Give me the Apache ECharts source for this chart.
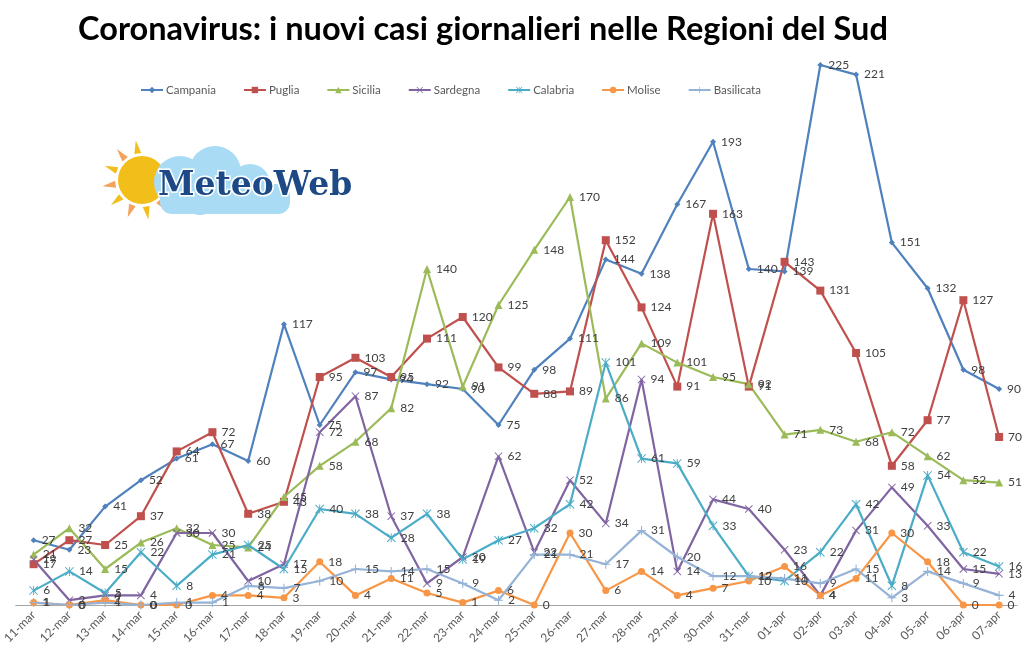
<!DOCTYPE html>
<html lang="it">
<head>
<meta charset="UTF-8">
<title>Coronavirus: i nuovi casi giornalieri nelle Regioni del Sud</title>
<script src="https://cdn.jsdelivr.net/npm/echarts@6/dist/echarts.min.js"></script>
<style>
  html, body { margin: 0; padding: 0; background: #fff; }
  #grafico { width: 1024px; height: 660px; }
</style>
</head>
<body>
<div id="grafico"></div>
<script>
// giorni e nuovi casi per regione
var giorni = ['11-mar','12-mar','13-mar','14-mar','15-mar','16-mar','17-mar','18-mar','19-mar','20-mar',
  '21-mar','22-mar','23-mar','24-mar','25-mar','26-mar','27-mar','28-mar','29-mar','30-mar',
  '31-mar','01-apr','02-apr','03-apr','04-apr','05-apr','06-apr','07-apr'];

var campania   = [27,23,41,52,61,67,60,117,75,97,94,92,90,75,98,111,144,138,167,193,140,139,225,221,151,132,98,90];
var puglia     = [17,27,25,37,64,72,38,43,95,103,95,111,120,99,88,89,152,124,91,163,91,143,131,105,58,77,127,70];
var sicilia    = [21,32,15,26,32,25,24,45,58,68,82,140,91,125,148,170,86,109,101,95,92,71,73,68,72,62,52,51];
var sardegna   = [19,2,4,4,30,30,10,17,72,87,37,9,20,62,22,52,34,94,14,44,40,23,4,31,49,33,15,13];
var calabria   = [6,14,5,22,8,21,25,15,40,38,28,38,19,27,32,42,101,61,59,33,12,10,22,42,8,54,22,16];
var molise     = [1,0,2,0,0,4,4,3,18,4,11,5,1,6,0,30,6,14,4,7,10,16,4,11,30,18,0,0];
var basilicata = [1,0,1,0,1,1,8,7,10,15,14,15,9,2,21,21,17,31,20,12,12,11,9,15,3,14,9,4];

var regioni = ['Campania','Puglia','Sicilia','Sardegna','Calabria','Molise','Basilicata'];
var valori  = [campania, puglia, sicilia, sardegna, calabria, molise, basilicata];
var colori  = ['#4F81BD','#C0504D','#9BBB59','#8064A2','#4BACC6','#F79646','#95B3D7'];

var piu = 'path://M4.4,0 H5.6 V4.4 H10 V5.6 H5.6 V10 H4.4 V5.6 H0 V4.4 H4.4 Z';
var ics = 'path://M0,0.8 L0.8,0 L5,4.2 L9.2,0 L10,0.8 L5.8,5 L10,9.2 L9.2,10 L5,5.8 L0.8,10 L0,9.2 L4.2,5 Z';
var asterisco = 'path://M0,0.8 L0.8,0 L5,4.2 L9.2,0 L10,0.8 L5.8,5 L10,9.2 L9.2,10 L5,5.8 L0.8,10 L0,9.2 L4.2,5 Z M4.5,0 H5.5 V10 H4.5 Z';
var simboli = ['diamond','rect','triangle',ics,asterisco,'circle',piu];
var misure  = [6,8,8,8,9,7,9];

var serie = regioni.map(function (nome, i) {
  return {
    name: nome,
    type: 'line',
    data: valori[i],
    symbol: simboli[i],
    symbolSize: misure[i],
    showAllSymbol: true,
    lineStyle: { width: 2.2, color: colori[i] },
    itemStyle: { color: colori[i] },
    label: {
      show: true,
      position: 'right',
      distance: 5,
      color: '#404040',
      fontSize: 12,
      fontFamily: 'Lato'
    },
    emphasis: { disabled: true },
    animation: false
  };
});

var grafico = echarts.init(document.getElementById('grafico'));

// logo MeteoWeb fatto a mano: sole + nuvola + scritta
var raggi = [];
for (var k = 0; k < 8; k++) {
  var a = Math.PI * 0.55 + k * Math.PI / 6;
  var cx = 142, cy = 180;
  var r1 = 27, r2 = 40;
  var w = 0.13;
  raggi.push({
    type: 'polygon',
    shape: { points: [
      [cx + r1 * Math.cos(a - w), cy - r1 * Math.sin(a - w)],
      [cx + r2 * Math.cos(a), cy - r2 * Math.sin(a)],
      [cx + r1 * Math.cos(a + w), cy - r1 * Math.sin(a + w)]
    ] },
    style: { fill: k % 2 ? '#F5A35C' : '#F2BE1A' },
    silent: true
  });
}

var logo = raggi.concat([
  { type: 'circle', shape: { cx: 142, cy: 180, r: 24 }, style: { fill: '#F2BE1A' }, silent: true },
  { type: 'circle', shape: { cx: 180, cy: 182, r: 26 }, style: { fill: '#A9DCF4' }, silent: true },
  { type: 'circle', shape: { cx: 215, cy: 172, r: 26 }, style: { fill: '#A9DCF4' }, silent: true },
  { type: 'circle', shape: { cx: 250, cy: 184, r: 20 }, style: { fill: '#A9DCF4' }, silent: true },
  { type: 'circle', shape: { cx: 200, cy: 198, r: 17 }, style: { fill: '#A9DCF4' }, silent: true },
  { type: 'rect', shape: { x: 160, y: 184, width: 130, height: 30, r: 12 }, style: { fill: '#A9DCF4' }, silent: true },
  {
    type: 'text', x: 158, y: 186, silent: true,
    style: {
      text: 'MeteoWeb', fill: '#1D4A86', stroke: '#ffffff', lineWidth: 3,
      font: 'bold 33px "DejaVu Serif"', textVerticalAlign: 'middle'
    }
  }
]);

var opzioni = {
  backgroundColor: '#ffffff',
  animation: false,
  color: colori,
  graphic: [{
    type: 'text', x: 483, y: 30, silent: true,
    style: {
      text: 'Coronavirus: i nuovi casi giornalieri nelle Regioni del Sud',
      fill: '#000000',
      font: 'bold 32.5px Lato',
      textAlign: 'center',
      textVerticalAlign: 'middle'
    }
  }].concat(logo),
  legend: {
    top: 79,
    left: 135,
    itemWidth: 22,
    itemHeight: 8,
    itemGap: 27,
    textStyle: { color: '#595959', fontSize: 11.5, fontFamily: 'Lato', padding: [0, 0, 0, -2] },
    data: regioni
  },
  grid: { left: 15, right: 7, top: 5, bottom: 55, containLabel: false },
  xAxis: {
    type: 'category',
    data: giorni,
    boundaryGap: true,
    axisLine: { lineStyle: { color: '#A6A6A6', width: 1 } },
    axisTick: { show: false },
    axisLabel: {
      rotate: 45,
      interval: 0,
      color: '#595959',
      fontSize: 12,
      fontFamily: 'Lato',
      margin: 8
    }
  },
  yAxis: {
    type: 'value',
    min: 0,
    max: 250,
    show: false,
    splitLine: { show: false }
  },
  series: serie
};

grafico.setOption(opzioni);
</script>
</body>
</html>
